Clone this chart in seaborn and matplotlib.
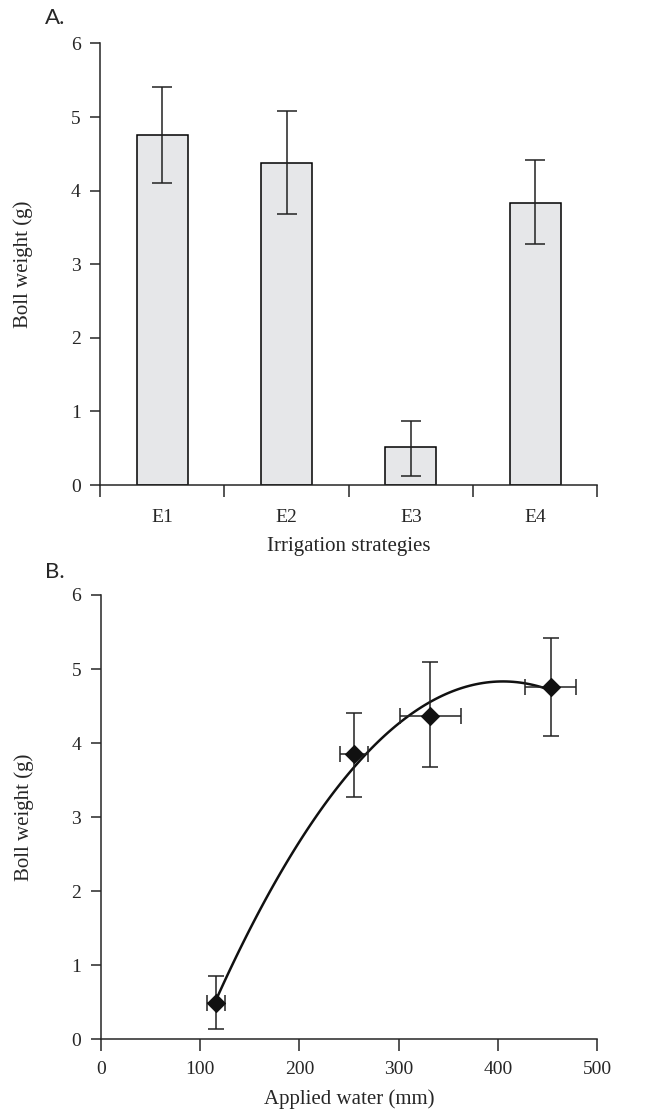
import numpy as np
import pandas as pd
import matplotlib
matplotlib.use("Agg")
import matplotlib.pyplot as plt
import seaborn as sns

# Panel A data
strategies = ["E1", "E2", "E3", "E4"]
boll_weight = [4.75, 4.37, 0.51, 3.83]
boll_err_low = [0.65, 0.69, 0.39, 0.56]
boll_err_high = [0.66, 0.71, 0.36, 0.59]

# Panel B data
applied_water = [116, 255, 332, 453]
water_err = [9, 14, 31, 26]
boll_b = [0.49, 3.85, 4.37, 4.76]
boll_b_err_low = [0.35, 0.58, 0.70, 0.67]
boll_b_err_high = [0.36, 0.56, 0.72, 0.66]

sns.set_style("ticks")
plt.rcParams["font.family"] = ["Liberation Serif", "DejaVu Serif"]
plt.rcParams["axes.linewidth"] = 1.1
plt.rcParams["xtick.major.width"] = 1.1
plt.rcParams["ytick.major.width"] = 1.1

TICK_FS = 14
LABEL_FS = 15

fig = plt.figure(figsize=(6.67, 11.15), dpi=100)
axA = fig.add_axes([0.15, 0.565, 0.7455, 0.396])
axB = fig.add_axes([0.151, 0.068, 0.7445, 0.3984])

# --- Panel A: bars ---
dfA = pd.DataFrame({"strategy": strategies, "weight": boll_weight})
sns.barplot(data=dfA, x="strategy", y="weight", ax=axA, color="#e6e7e9",
            edgecolor="black", linewidth=1.1, width=0.41, saturation=1, errorbar=None)
axA.errorbar(np.arange(len(strategies)), boll_weight,
             yerr=[boll_err_low, boll_err_high], fmt="none", ecolor="#222222",
             elinewidth=1.1, capsize=7.5, capthick=1.1)
axA.set_xlim(-0.5, 3.5)
axA.set_ylim(0, 6)
axA.set_xticks(np.arange(-0.5, 4, 1.0))
axA.set_xticklabels([])
axA.set_xticks(np.arange(len(strategies)), minor=True)
axA.set_xticklabels(strategies, minor=True)
axA.tick_params(axis="x", which="minor", length=0, pad=17, labelsize=TICK_FS)
axA.tick_params(axis="x", which="major", length=8.5, direction="out")
axA.tick_params(axis="y", length=7, labelsize=TICK_FS, pad=7)
axA.set_yticks(range(0, 7))
axA.set_xlabel("Irrigation strategies", fontsize=LABEL_FS, labelpad=8)
axA.set_ylabel("Boll weight (g)", fontsize=LABEL_FS, labelpad=27)
sns.despine(ax=axA)
fig.text(0.068, 0.984, "A.", fontsize=16, family="Lato", va="center", ha="left")

# --- Panel B: fit and points ---
dfB = pd.DataFrame({"water": applied_water, "weight": boll_b})
sns.regplot(data=dfB, x="water", y="weight", order=2, ci=None, scatter=False,
            ax=axB, truncate=True, line_kws={"color": "#111111", "lw": 1.8})
axB.errorbar(applied_water, boll_b, xerr=water_err,
             yerr=[boll_b_err_low, boll_b_err_high], fmt="none", ecolor="#222222",
             elinewidth=1.1, capsize=5.5, capthick=1.1)
sns.scatterplot(data=dfB, x="water", y="weight", marker="D", s=85,
                color="#111111", edgecolor="#111111", ax=axB, zorder=5)
axB.set_xlim(0, 500)
axB.set_ylim(0, 6)
axB.set_xticks(range(0, 501, 100))
axB.set_yticks(range(0, 7))
axB.tick_params(axis="x", length=8.5, labelsize=TICK_FS, pad=7)
axB.tick_params(axis="y", length=7, labelsize=TICK_FS, pad=7)
axB.set_xlabel("Applied water (mm)", fontsize=LABEL_FS, labelpad=8)
axB.set_ylabel("Boll weight (g)", fontsize=LABEL_FS, labelpad=27)
sns.despine(ax=axB)
fig.text(0.068, 0.487, "B.", fontsize=16, family="Lato", va="center", ha="left")

fig.savefig("out.png", dpi=100)
